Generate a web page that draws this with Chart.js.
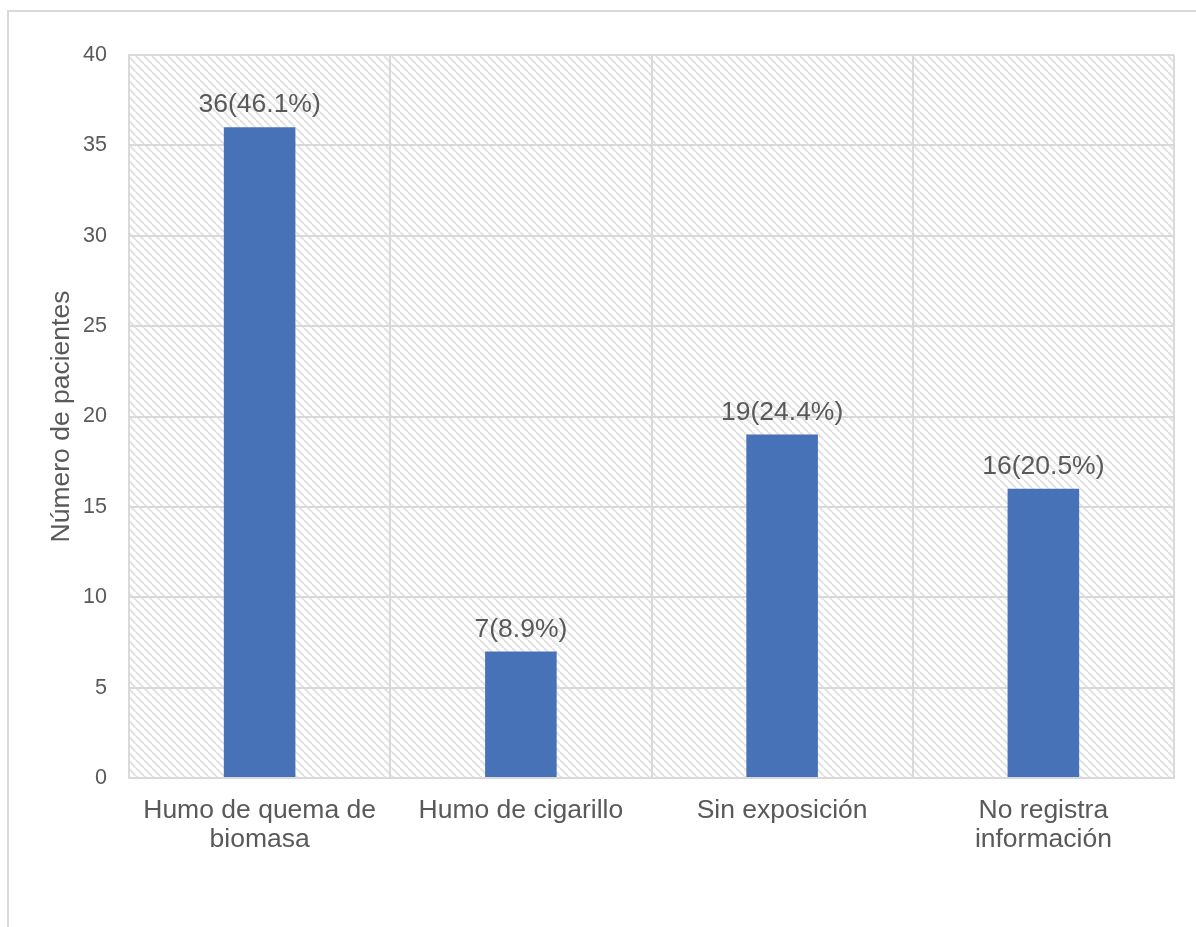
<!DOCTYPE html>
<html>
<head>
<meta charset="utf-8">
<script src="https://cdn.jsdelivr.net/npm/chart.js@4.4.1/dist/chart.umd.min.js"></script>
<style>
  html, body { margin:0; padding:0; background:#fff; }
  #wrap { position:relative; width:1196px; height:927px; overflow:hidden; }
  #frame { position:absolute; left:7px; top:10px; width:1300px; height:1000px; border-left:2px solid #d9d9d9; border-top:2px solid #d9d9d9; box-sizing:border-box; }
  canvas { position:absolute; left:0; top:0; }
</style>
</head>
<body>
<div id="wrap">
  <div id="frame"></div>
  <canvas id="c" width="1196" height="927"></canvas>
</div>
<script>
const categories = [["Humo de quema de", "biomasa"], "Humo de cigarillo", "Sin exposición", ["No registra", "información"]];
const patients = [36, 7, 19, 16];
const percentLabels = ["46.1%", "8.9%", "24.4%", "20.5%"];
const yTicks = [0, 5, 10, 15, 20, 25, 30, 35, 40];
const axisTitle = "Número de pacientes";

function makeHatch() {
  const t = document.createElement('canvas');
  t.width = 8; t.height = 8;
  const g = t.getContext('2d');
  g.fillStyle = '#ffffff';
  g.fillRect(0, 0, 8, 8);
  g.strokeStyle = '#e3e3e3';
  g.lineWidth = 2.2;
  for (let k = -8; k <= 8; k += 8) {
    g.beginPath();
    g.moveTo(k, 0);
    g.lineTo(k + 8, 8);
    g.stroke();
  }
  return g.createPattern(t, 'repeat');
}

const hatchPlugin = {
  id: 'hatch',
  beforeDraw(chart) {
    const {ctx, chartArea: a} = chart;
    ctx.save();
    ctx.fillStyle = makeHatch();
    ctx.fillRect(a.left, a.top, a.right - a.left, a.bottom - a.top);
    ctx.restore();
  }
};

const labelPlugin = {
  id: 'valueLabels',
  afterDatasetsDraw(chart) {
    const {ctx} = chart;
    const meta = chart.getDatasetMeta(0);
    ctx.save();
    ctx.font = '26.5px "Liberation Sans", Arial, sans-serif';
    ctx.fillStyle = '#595959';
    ctx.textAlign = 'center';
    ctx.textBaseline = 'bottom';
    meta.data.forEach((bar, i) => {
      ctx.fillText(patients[i] + '(' + percentLabels[i] + ')', bar.x, bar.y - 9);
    });
    ctx.restore();
  }
};

new Chart(document.getElementById('c'), {
  type: 'bar',
  data: {
    labels: categories,
    datasets: [{
      data: patients,
      backgroundColor: '#4872b8',
      borderWidth: 0,
      categoryPercentage: 1,
      barPercentage: 0.274
    }]
  },
  options: {
    responsive: false,
    animation: false,
    devicePixelRatio: 1,
    layout: { padding: { left: 0, right: 22, top: 55, bottom: 0 } },
    plugins: { legend: { display: false }, tooltip: { enabled: false } },
    scales: {
      x: {
        grid: { color: '#d9d9d9', lineWidth: 2, drawTicks: false, offset: true },
        border: { color: '#d9d9d9', width: 2 },
        ticks: {
          color: '#595959',
          font: { family: '"Liberation Sans", Arial, sans-serif', size: 26.5, lineHeight: 1.1 },
          padding: 18,
          maxRotation: 0,
          autoSkip: false
        },
        afterFit(s) { s.height = 149; }
      },
      y: {
        min: 0, max: 40,
        afterBuildTicks(s) { s.ticks = yTicks.map(v => ({ value: v })); },
        grid: { color: '#d9d9d9', lineWidth: 2, drawTicks: false },
        border: { color: '#d9d9d9', width: 2 },
        ticks: {
          color: '#595959',
          font: { family: '"Liberation Sans", Arial, sans-serif', size: 21.5 },
          padding: 22
        },
        title: {
          display: true,
          text: axisTitle,
          color: '#595959',
          font: { family: '"Liberation Sans", Arial, sans-serif', size: 26.5 },
          padding: { top: 46, bottom: 0 }
        },
        afterFit(s) { s.width = 129; }
      }
    }
  },
  plugins: [hatchPlugin, labelPlugin]
});
</script>
</body>
</html>
